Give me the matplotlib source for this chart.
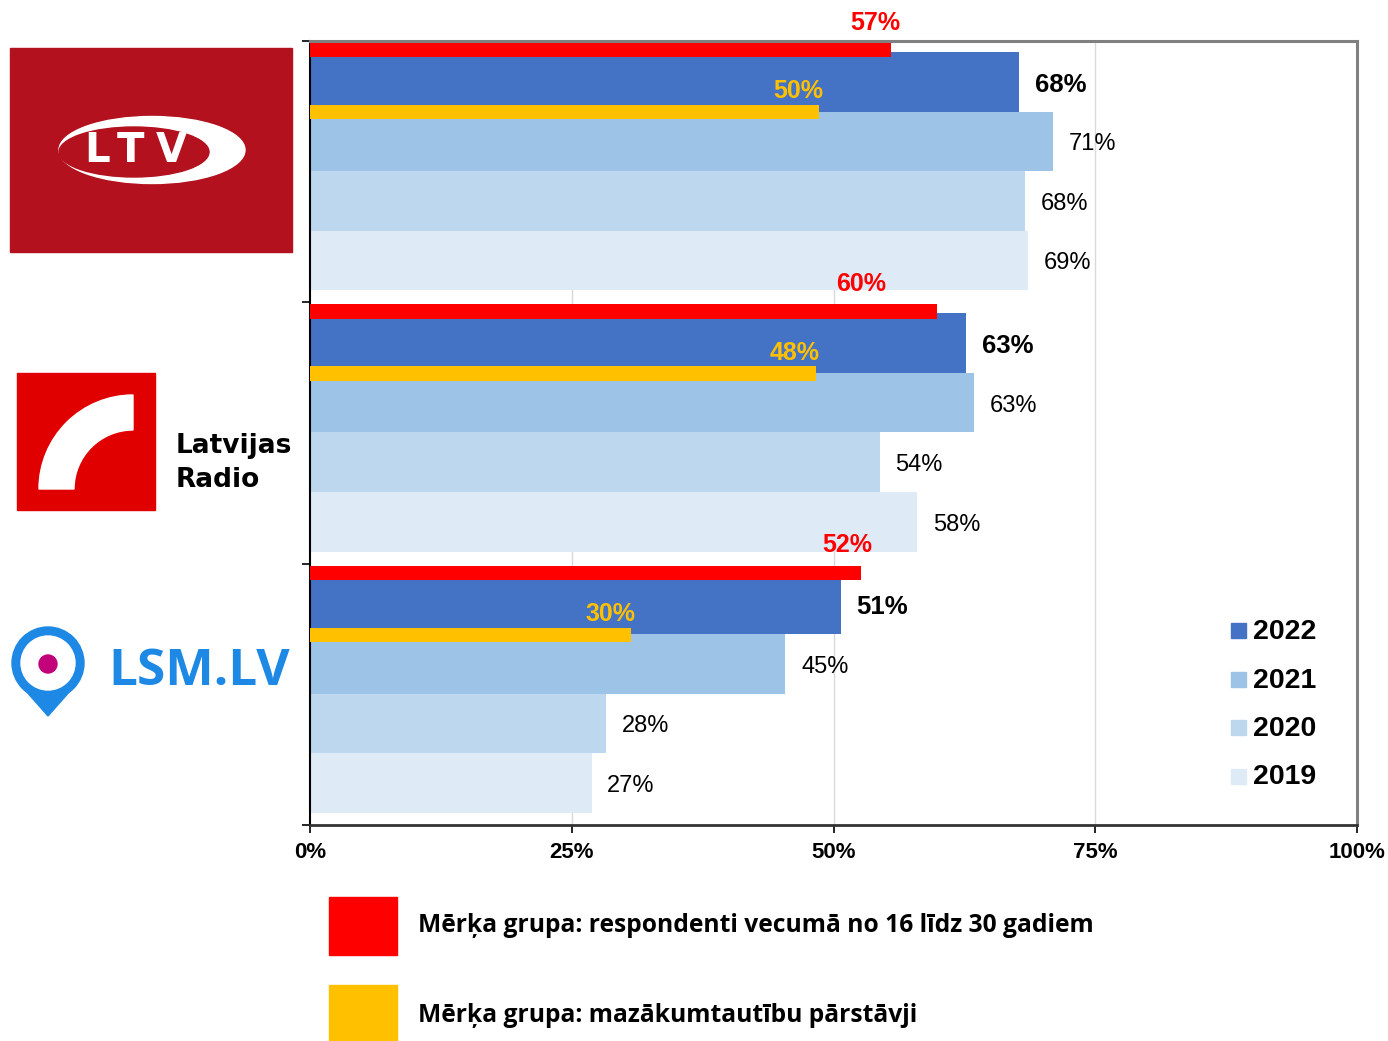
import matplotlib
matplotlib.use('Agg')
import matplotlib.pyplot as plt
from matplotlib import font_manager
from matplotlib.patches import Rectangle, Wedge, Circle, Ellipse, Polygon
import numpy as np

# data
groups = ['LTV', 'Latvijas Radio', 'LSM.LV']
years = ['2022', '2021', '2020', '2019']
v2022 = [67.7, 62.7, 50.7]
v2021 = [71.0, 63.4, 45.4]
v2020 = [68.3, 54.4, 28.3]
v2019 = [68.6, 58.0, 26.9]
young_vals = [55.5, 59.9, 52.6]       # red bars: respondents 16-30
young_labels = [57, 60, 52]
minority_vals = [48.6, 48.3, 30.7]    # yellow bars: minorities
minority_labels = [50, 48, 30]
xticks = [0, 25, 50, 75, 100]
legend_young = 'Mērķa grupa: respondenti vecumā no 16 līdz 30 gadiem'
legend_minority = 'Mērķa grupa: mazākumtautību pārstāvji'

year_colors = ['#4472C4', '#9DC3E6', '#BDD7EE', '#DEEBF7']
RED = '#FF0000'
YELLOW = '#FFC000'


def have_font(name):
    try:
        font_manager.findfont(font_manager.FontProperties(family=name), fallback_to_default=False)
        return True
    except Exception:
        return False


NARROW = 'Liberation Sans Narrow' if have_font('Liberation Sans Narrow') else 'Liberation Sans'
plt.rcParams['font.family'] = ['Liberation Sans', 'DejaVu Sans']

W, H = 1388, 1041
fig = plt.figure(figsize=(W / 100, H / 100), dpi=100)
fig.patch.set_facecolor('white')

ax = fig.add_axes([310 / W, 1 - 825 / H, (1357 - 310) / W, (825 - 41) / H])

bar_h = 0.228
first = 0.042
series = [v2022, v2021, v2020, v2019]
for j, vals in enumerate(series):
    for i, v in enumerate(vals):
        yc = i + first + bar_h * j + bar_h / 2
        ax.barh(yc, v, height=bar_h, color=year_colors[j], zorder=2)
        if j == 0:
            ax.text(v + 1.5, yc + 0.011, f'{round(v)}%', va='center', ha='left',
                    fontsize=18.5, fontweight='bold', color='black', zorder=5)
        else:
            ax.text(v + 1.5, yc + 0.011, f'{round(v)}%', va='center', ha='left',
                    fontsize=17, color='black', zorder=5)

red_shift = [1.5, 7.3, 1.3]
for i, (v, lab) in enumerate(zip(young_vals, young_labels)):
    ax.barh(i + 0.008 + 0.027, v, height=0.054, color=RED, zorder=3)
    ax.text(v - red_shift[i], i - 0.07, f'{lab}%', ha='center', va='center',
            fontsize=18, fontweight='bold', color=RED, family=NARROW, zorder=5)

for i, (v, lab) in enumerate(zip(minority_vals, minority_labels)):
    ax.barh(i + 0.245 + 0.0275, v, height=0.055, color=YELLOW, zorder=3)
    ax.text(v - 2.0, i + 0.192, f'{lab}%', ha='center', va='center',
            fontsize=18, fontweight='bold', color=YELLOW, family=NARROW, zorder=5)

ax.set_xlim(0, 100)
ax.set_ylim(3, 0)
ax.set_xticks(xticks)
ax.set_xticklabels([f'{t}%' for t in xticks], fontsize=16, fontweight='bold', family=NARROW)
ax.set_yticks([0, 1, 2, 3])
ax.set_yticklabels([])
ax.tick_params(axis='both', direction='out', length=6, width=1.2, color='black')
ax.tick_params(axis='x', pad=6)
for t in [25, 50, 75]:
    ax.axvline(t, color='#D9D9D9', lw=1, zorder=1)
ax.spines['left'].set_color('black')
ax.spines['left'].set_linewidth(1.5)
ax.spines['bottom'].set_color('#333333')
ax.spines['bottom'].set_linewidth(2)
ax.spines['top'].set_color('#808080')
ax.spines['top'].set_linewidth(2.2)
ax.spines['right'].set_color('#808080')
ax.spines['right'].set_linewidth(2.2)

# overlay in pixel coordinates for logos and legends
bg = fig.add_axes([0, 0, 1, 1], zorder=5)
bg.set_xlim(0, W)
bg.set_ylim(H, 0)
bg.axis('off')
bg.patch.set_alpha(0)

# year legend
for k, (yr, c) in enumerate(zip(years, year_colors)):
    yc = 631 + k * 48.5
    bg.add_patch(Rectangle((1231, yc - 8), 15, 15, color=c))
    bg.text(1253, yc + 1, yr, va='center', ha='left', fontsize=20.5, fontweight='bold')

# target group legend
bg.add_patch(Rectangle((329, 897), 68, 58, color=RED))
bg.add_patch(Rectangle((329, 985), 68, 56, color=YELLOW))
bg.text(418, 925, legend_young, va='center', ha='left', fontsize=17.7,
        fontweight='bold', family='Open Sans')
bg.text(418, 1016, legend_minority, va='center', ha='left', fontsize=17.7,
        fontweight='bold', family='Open Sans')

# LTV logo
bg.add_patch(Rectangle((10, 48), 282, 204, color='#B2111D'))
bg.add_patch(Ellipse((152, 150), 186, 67, color='white'))
bg.add_patch(Ellipse((134, 152), 150, 50, color='#B2111D'))
for ch, xc in zip('LTV', [97, 131, 171]):
    bg.text(xc, 151, ch, ha='center', va='center', fontsize=29,
            fontweight='heavy', color='white', family='DejaVu Sans')

# Latvijas Radio logo
bg.add_patch(Rectangle((17, 373), 138, 137, color='#E10000'))
bg.add_patch(Wedge((133, 489), 94, 180, 270, width=35, color='white'))
bg.text(176, 446, 'Latvijas', ha='left', va='center', fontsize=19,
        fontweight='bold', family='DejaVu Sans')
bg.text(176, 480, 'Radio', ha='left', va='center', fontsize=19,
        fontweight='bold', family='DejaVu Sans')

# LSM.LV logo
BLUE = '#1E88E5'
bg.add_patch(Polygon([(18, 682), (78, 682), (48, 716)], color=BLUE))
bg.add_patch(Circle((48, 663), 36, color=BLUE))
bg.add_patch(Circle((48, 663), 27, color='white'))
bg.add_patch(Circle((48, 664), 9, color='#C2007A'))
bg.text(108, 672, 'LSM.LV', ha='left', va='center', fontsize=37,
        fontweight='bold', color=BLUE, family='Open Sans')

fig.savefig('out.png', dpi=100, facecolor='white')
